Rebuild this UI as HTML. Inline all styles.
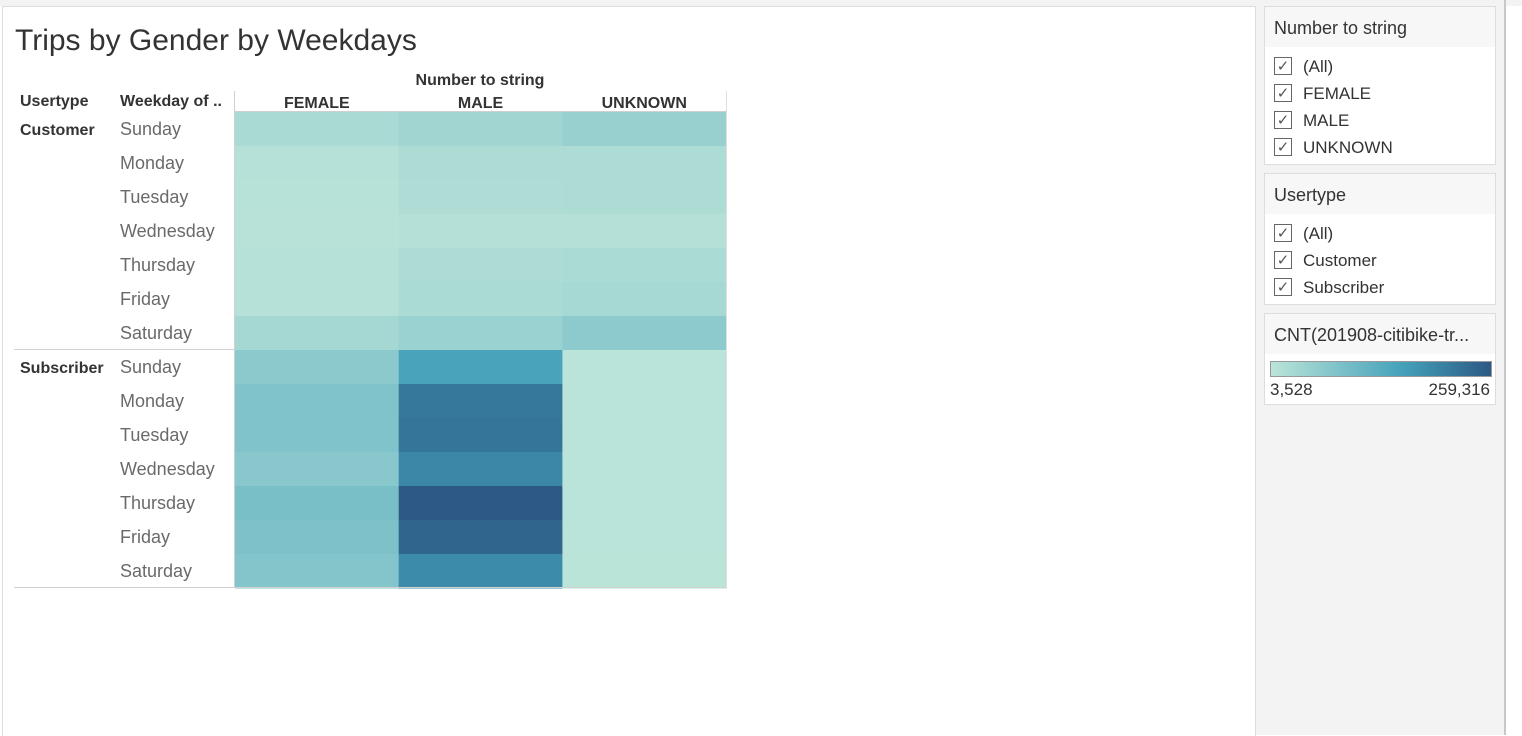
<!DOCTYPE html>
<html><head><meta charset="utf-8"><style>
body{margin:0;width:1522px;height:735px;overflow:hidden;background:#fff;font-family:"Liberation Sans",sans-serif;position:relative}
.abs{position:absolute}
.hdr{font-weight:bold;font-size:16px;color:#333}
.card{position:absolute;left:1264px;width:230px;background:#fff;border:1px solid #ddd}
.card .t{background:#f7f7f7;height:40px;line-height:42px;padding-left:9px;font-size:18px;color:#333}
.list{padding-top:6px}
.item{height:27px;line-height:27px;font-size:17px;color:#333;padding-left:38px;position:relative}
.cb{position:absolute;left:9px;top:4px;width:18px;height:18px;border:1px solid #666;box-sizing:border-box;font-size:15px;line-height:17px;text-align:center;color:#555}
</style></head><body>
<div class="abs" style="left:0;top:0;width:1522px;height:6px;background:#f3f3f3"></div>
<div class="abs" style="left:2px;top:6px;width:1252px;height:729px;border-left:1px solid #ddd;border-top:1px solid #ddd;border-right:1px solid #ddd"></div>
<div class="abs" style="left:1256px;top:0;width:248px;height:735px;background:#f3f3f3;border-right:2px solid #c8c8c8"></div>
<div class="abs" style="left:15px;top:24px;font-size:30px;color:#333;font-weight:300">Trips by Gender by Weekdays</div>
<div class="abs hdr" style="left:398px;top:72px;width:164px;text-align:center">Number to string</div>
<div class="abs hdr" style="left:20px;top:93px">Usertype</div>
<div class="abs hdr" style="left:120px;top:93px">Weekday of ..</div>
<svg class="abs" style="left:0;top:0" width="740" height="600" id="hm"></svg>
<div class="card" style="top:6px;height:157px">
<div class="t">Number to string</div>
<div class="list">
<div class="item"><span class="cb">✓</span>(All)</div>
<div class="item"><span class="cb">✓</span>FEMALE</div>
<div class="item"><span class="cb">✓</span>MALE</div>
<div class="item"><span class="cb">✓</span>UNKNOWN</div>
</div>
</div>
<div class="card" style="top:173px;height:130px">
<div class="t">Usertype</div>
<div class="list">
<div class="item"><span class="cb">✓</span>(All)</div>
<div class="item"><span class="cb">✓</span>Customer</div>
<div class="item"><span class="cb">✓</span>Subscriber</div>
</div>
</div>
<div class="card" style="top:313px;height:90px">
<div class="t">CNT(201908-citibike-tr...</div>
<div style="position:absolute;left:5px;top:47px;width:220px;height:14px;border:1px solid #999;background:linear-gradient(to right,#bbe4d9,#44a1ba 60%,#2c5985)"></div>
<div style="position:absolute;left:5px;top:66px;font-size:17px;color:#333">3,528</div>
<div style="position:absolute;right:5px;top:66px;font-size:17px;color:#333">259,316</div>
</div>
<script>
const genders=["FEMALE","MALE","UNKNOWN"];
const usertypes=["Customer","Subscriber"];
const weekdays=["Sunday","Monday","Tuesday","Wednesday","Thursday","Friday","Saturday"];
const customerFemale=[25000,10000,8000,7000,9000,10000,30000];
const customerMale=[35000,20000,18000,12000,20000,22000,42000];
const customerUnknown=[45000,20000,20000,12000,22000,28000,58000];
const subscriberFemale=[60000,72000,72000,64000,82000,76000,68000];
const subscriberMale=[140000,210000,215000,185000,259316,240000,180000];
const subscriberUnknown=[5000,4500,4500,4500,4500,4200,4000];
const vmin=3528,vmax=259316;
const series={Customer:[customerFemale,customerMale,customerUnknown],Subscriber:[subscriberFemale,subscriberMale,subscriberUnknown]};
const NS="http://www.w3.org/2000/svg";
const svg=document.getElementById('hm');
const x0=235,cw=163.7,y0=112,rh=34;
function xs(i){return x0+i*cw}
function ys(u,d){return y0+(u*7+d)*rh}
const stops=[[0,[187,228,217]],[0.55,[68,161,186]],[1,[44,89,133]]];
function color(v){let t=(v-vmin)/(vmax-vmin);t=Math.max(0,Math.min(1,t));
for(let i=0;i<stops.length-1;i++){const a=stops[i],b=stops[i+1];if(t<=b[0]){const f=(t-a[0])/(b[0]-a[0]);return 'rgb('+a[1].map((c,k)=>Math.round(c+(b[1][k]-c)*f)).join(',')+')'}}return 'rgb(44,89,133)'}
function el(tag,attrs,txt){const e=document.createElementNS(NS,tag);for(const k in attrs)e.setAttribute(k,attrs[k]);if(txt!==undefined)e.textContent=txt;svg.appendChild(e);return e}
usertypes.forEach((u,ui)=>{series[u].forEach((arr,gi)=>{arr.forEach((v,di)=>{
const r=el('rect',{x:xs(gi),y:ys(ui,di),width:cw+0.5,height:rh+0.5,fill:color(v)});


})});
const ul=el('text',{x:20,y:ys(ui,0)+23,'font-size':16,'font-weight':'bold',fill:'#333'},u);


weekdays.forEach((d,di)=>{const t=el('text',{x:120,y:ys(ui,di)+23,'font-size':18,fill:'#6a6a6a'},d);

});
});
genders.forEach((g,gi)=>{const t=el('text',{x:xs(gi)+cw/2,y:108,'font-size':16,'font-weight':'bold',fill:'#333','text-anchor':'middle'},g);

});
el('line',{x1:234.5,y1:91,x2:234.5,y2:588,stroke:'#d0d0d0'});
el('line',{x1:726.5,y1:91,x2:726.5,y2:588,stroke:'#e0e0e0'});
el('line',{x1:235,y1:111.5,x2:727,y2:111.5,stroke:'#d0d0d0'});
el('line',{x1:14,y1:349.5,x2:235,y2:349.5,stroke:'#d0d0d0'});
el('line',{x1:14,y1:587.5,x2:727,y2:587.5,stroke:'#d0d0d0'});
</script>
</body></html>
